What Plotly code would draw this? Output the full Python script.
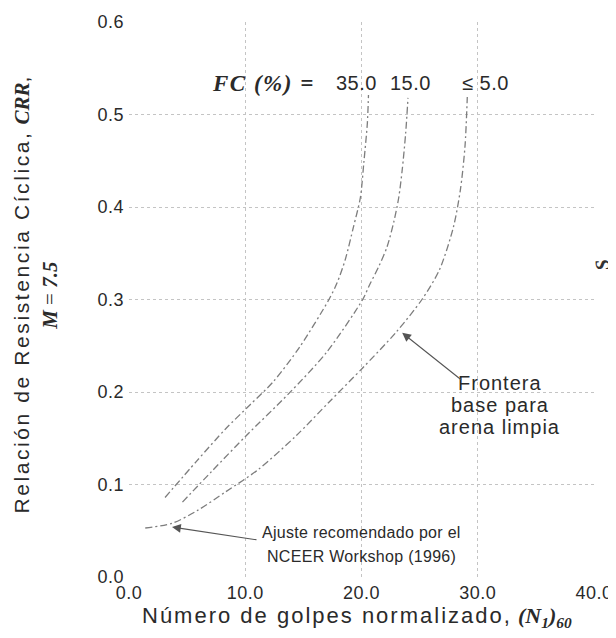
import plotly.graph_objects as go

# ---- data ----
n_clean = [1.4, 3.7, 5.9, 8.3, 11.1, 14.4, 17.2, 20.1, 23.0, 25.2, 26.7, 27.9, 28.5, 28.9, 29.1]
crr_clean = [0.053, 0.058, 0.072, 0.092, 0.116, 0.153, 0.189, 0.226, 0.265, 0.300, 0.332, 0.378, 0.418, 0.465, 0.519]

n_fc15 = [4.6, 7.1, 10.1, 13.8, 17.0, 20.1, 20.7, 21.5, 22.2, 22.8, 23.2, 23.5, 23.8, 24.0]
crr_fc15 = [0.081, 0.114, 0.153, 0.199, 0.243, 0.300, 0.316, 0.336, 0.357, 0.385, 0.410, 0.440, 0.480, 0.518]

n_fc35 = [3.1, 5.8, 8.3, 10.4, 12.4, 14.7, 17.2, 17.9, 18.6, 19.3, 19.9, 20.2, 20.5, 20.6]
crr_fc35 = [0.086, 0.125, 0.160, 0.186, 0.211, 0.249, 0.300, 0.318, 0.343, 0.378, 0.410, 0.448, 0.490, 0.521]

x_ticks = [0, 10, 20, 30, 40]
x_ticklabels = ["0.0", "10.0", "20.0", "30.0", "40.0"]
y_ticks = [0.0, 0.1, 0.2, 0.3, 0.4, 0.5, 0.6]
y_ticklabels = ["0.0", "0.1", "0.2", "0.3", "0.4", "0.5", "0.6"]

fc_labels = ["35.0", "15.0", "≤ 5.0"]
fc_label_x = [19.6, 24.2, 30.7]

frontera_lines = ["Frontera", "base para", "arena limpia"]
frontera_y = [0.210, 0.186, 0.162]
ajuste_lines = ["Ajuste recomendado por el", "NCEER Workshop (1996)"]
ajuste_y = [0.048, 0.022]

SANS = "Liberation Sans Narrow, Arial Narrow, Liberation Sans, Arial, sans-serif"
SERIF = "Liberation Serif, Times New Roman, serif"
TXT = "#2a2a2a"
LINE = "#7d7d7d"


def sp(t, ls=1.0):
    return f"<span style='letter-spacing:{ls}px'>{t}</span>"


fig = go.Figure()
for xs, ys, name in [(n_fc35, crr_fc35, "FC 35"), (n_fc15, crr_fc15, "FC 15"), (n_clean, crr_clean, "FC ≤5")]:
    fig.add_trace(go.Scatter(
        x=xs, y=ys, mode="lines", name=name,
        line=dict(color=LINE, width=1.3, dash="7px,3px,2px,3px", shape="spline", smoothing=0.8),
        showlegend=False, hoverinfo="skip"))

ann = []
# FC header
ann.append(dict(x=11.6, y=0.534, xref="x", yref="y", showarrow=False,
                text="<b><i>" + sp("FC (%) =", 1.5) + "</i></b>", font=dict(family=SERIF, size=23, color=TXT)))
for lab, xx in zip(fc_labels, fc_label_x):
    ann.append(dict(x=xx, y=0.534, xref="x", yref="y", showarrow=False,
                    text=sp(lab, 0.5), font=dict(family=SANS, size=20, color=TXT)))

# Frontera annotation
for line_txt, yy in zip(frontera_lines, frontera_y):
    ann.append(dict(x=31.9, y=yy, xref="x", yref="y", showarrow=False,
                    text=sp(line_txt, 1.0), font=dict(family=SANS, size=20, color=TXT)))
ann.append(dict(x=23.5, y=0.264, ax=28.7, ay=0.212, xref="x", yref="y", axref="x", ayref="y",
                text="", showarrow=True, arrowhead=2, arrowsize=1.6, arrowwidth=1.1, arrowcolor="#555"))

# NCEER annotation
for line_txt, yy in zip(ajuste_lines, ajuste_y):
    ann.append(dict(x=20.0, y=yy, xref="x", yref="y", showarrow=False,
                    text=sp(line_txt, 0.3), font=dict(family=SANS, size=16, color=TXT)))
ann.append(dict(x=3.7, y=0.054, ax=11.1, ay=0.040, xref="x", yref="y", axref="x", ayref="y",
                text="", showarrow=True, arrowhead=2, arrowsize=1.6, arrowwidth=1.1, arrowcolor="#555"))

# axis titles
ann.append(dict(x=0.49, y=-0.072, xref="paper", yref="paper", xanchor="center", yanchor="middle",
                showarrow=False,
                text=sp("Número de golpes normalizado,", 2.0) +
                     " <span style='font-family:Liberation Serif'><b><i>(N</i></b><sub><b><i>1</i></b></sub><b><i>)</i></b><sub><b><i>60</i></b></sub></span>",
                font=dict(family=SANS, size=22, color=TXT)))
ann.append(dict(x=-0.200, y=0.507, xref="paper", yref="paper", xanchor="center", yanchor="middle",
                showarrow=False, textangle=-90,
                text=sp("Relación de Resistencia Cíclica,", 2.6) +
                     " <span style='font-family:Liberation Serif'><b><i>CRR</i></b></span>,<br>"
                     "<span style='font-family:Liberation Serif'><b><i>M</i></b> = <b><i>7.5</i></b></span>",
                font=dict(family=SANS, size=21, color=TXT)))
# stray glyph at right edge of scan
ann.append(dict(x=1.018, y=0.562, xref="paper", yref="paper", xanchor="center", yanchor="middle",
                showarrow=False, textangle=-100,
                text="<b><i>S</i></b>", font=dict(family=SERIF, size=20, color="#333")))

# page body adds an 8px margin, so the figure is sized/positioned to compensate
fig.update_layout(
    width=608, height=622,
    margin=dict(l=121, r=22, t=14, b=53),
    paper_bgcolor="white", plot_bgcolor="white",
    annotations=ann,
    xaxis=dict(range=[0, 40], tickvals=x_ticks, ticktext=[sp(t, 0.5) for t in x_ticklabels],
               showgrid=True, gridcolor="#c4c4c4", griddash="dot", gridwidth=1,
               zeroline=False, showline=False, ticks="", automargin=False, ticklabelstandoff=3,
               tickfont=dict(family=SANS, size=18, color=TXT)),
    yaxis=dict(range=[0, 0.6], tickvals=y_ticks, ticktext=[sp(t, 0.5) for t in y_ticklabels],
               showgrid=True, gridcolor="#c4c4c4", griddash="dot", gridwidth=1,
               zeroline=False, showline=False, ticks="", automargin=False, ticklabelstandoff=4,
               tickfont=dict(family=SANS, size=18, color=TXT)),
)

fig.write_html("out.html")
